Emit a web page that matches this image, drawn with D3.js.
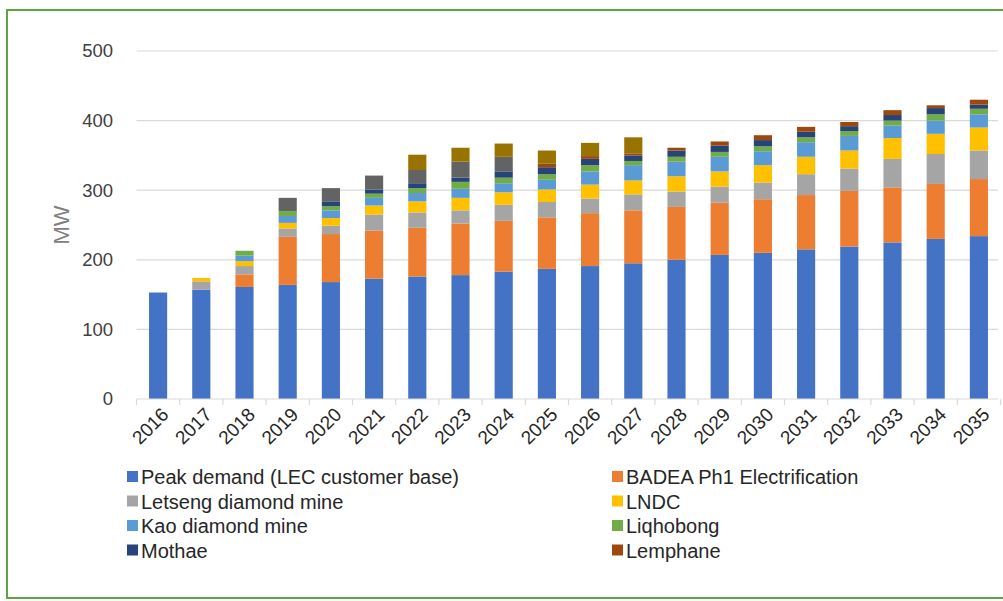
<!DOCTYPE html>
<html>
<head>
<meta charset="utf-8">
<script src="https://cdn.jsdelivr.net/npm/d3@7"></script>
<style>
  html, body { margin: 0; padding: 0; background: #fff; }
  svg { display: block; font-family: "Liberation Sans", Arial, sans-serif; }
</style>
</head>
<body>
<svg id="chart" width="1003" height="601"></svg>
<script>
// Forecast peak demand by load source, MW
const years = ["2016","2017","2018","2019","2020","2021","2022","2023","2024","2025",
               "2026","2027","2028","2029","2030","2031","2032","2033","2034","2035"];

const peakDemand = [153,157,161,164,168,173,176,178,183,187,191,195,200,207,210,215,219,225,230,234];
const badea      = [0,0,18,69,69,69,70,74,73,74,76,76,76,75,77,78,80,79,79,82];
const letseng    = [0,12,12,12,12,23,22,19,23,22,21,23,22,23,24,30,32,41,43,41];
const lndc       = [0,5,7,8,11,13,16,18,18,18,20,20,22,22,25,25,26,30,29,33];
const kao        = [0,0,8,10,11,11,12,13,13,14,19,22,21,21,20,21,21,18,19,19];
const liqhobong  = [0,0,7,7,6,6,7,10,8,8,9,6,7,7,7,7,7,7,9,8];
const mothae     = [0,0,0,0,7,6,7,6,9,10,9,8,9,9,9,8,7,8,9,6];
const lemphane   = [0,0,0,0,0,0,0,0,0,5,4,3,4,6,7,7,6,7,4,7];
const extraLoadA = [0,0,0,19,19,20,19,23,21,0,0,0,0,0,0,0,0,0,0,0];
const extraLoadB = [0,0,0,0,0,0,22,20,19,19,19,23,0,0,0,0,0,0,0,0];

const yTicks = [0,100,200,300,400,500];

const series = [
  { name: "Peak demand (LEC customer base)", values: peakDemand, color: "#4472C4", legend: true },
  { name: "BADEA Ph1 Electrification",       values: badea,      color: "#ED7D31", legend: true },
  { name: "Letseng diamond mine",            values: letseng,    color: "#A5A5A5", legend: true },
  { name: "LNDC",                            values: lndc,       color: "#FFC000", legend: true },
  { name: "Kao diamond mine",                values: kao,        color: "#5B9BD5", legend: true },
  { name: "Liqhobong",                       values: liqhobong,  color: "#70AD47", legend: true },
  { name: "Mothae",                          values: mothae,     color: "#264478", legend: true },
  { name: "Lemphane",                        values: lemphane,   color: "#9E480E", legend: true },
  { name: "extraLoadA",                      values: extraLoadA, color: "#636363", legend: false },
  { name: "extraLoadB",                      values: extraLoadB, color: "#997300", legend: false }
];

const svg = d3.select("#chart");

// outer frame
svg.append("rect").attr("x", 7).attr("y", 10).attr("width", 1010).attr("height", 588)
  .attr("fill", "none").attr("stroke", "#5ea441").attr("stroke-width", 2);

const plot = { left: 136.5, right: 998, top: 51, bottom: 399 };

const x = d3.scaleBand().domain(years)
  .range([plot.left, plot.left + 864])
  .paddingInner(0.58).paddingOuter(0.29);

const y = d3.scaleLinear().domain([0, 500]).range([plot.bottom, plot.top]);

// gridlines
svg.append("g").selectAll("line").data(yTicks.filter(d => d > 0)).join("line")
  .attr("x1", plot.left).attr("x2", plot.right)
  .attr("y1", d => y(d)).attr("y2", d => y(d))
  .attr("stroke", "#d9d9d9").attr("stroke-width", 1.2);

// y tick labels
svg.append("g").selectAll("text").data(yTicks).join("text")
  .attr("x", 113).attr("y", d => y(d))
  .attr("dy", "0.35em").attr("text-anchor", "end")
  .attr("font-size", 18.5).attr("fill", "#404040")
  .text(d => d);

// y axis title
svg.append("text")
  .attr("transform", `translate(69,${y(250)}) rotate(-90)`)
  .attr("text-anchor", "middle").attr("font-size", 22).attr("fill", "#808080")
  .text("MW");

// stacked bars
const rows = years.map((yr, i) => {
  const r = { year: yr };
  series.forEach(s => { r[s.name] = s.values[i]; });
  return r;
});
const stack = d3.stack().keys(series.map(s => s.name))(rows);

svg.append("g").selectAll("g").data(stack).join("g")
  .attr("fill", (d, i) => series[i].color)
  .selectAll("rect").data(d => d).join("rect")
  .attr("x", d => x(d.data.year))
  .attr("width", x.bandwidth())
  .attr("y", d => y(d[1]))
  .attr("height", d => y(d[0]) - y(d[1]));

// category axis line and boundary ticks
const step = x.step();
svg.append("line")
  .attr("x1", plot.left).attr("x2", plot.right)
  .attr("y1", plot.bottom).attr("y2", plot.bottom)
  .attr("stroke", "#d9d9d9").attr("stroke-width", 1.2);
const bounds = years.map(d => x(d) + x.bandwidth() / 2 - step / 2)
  .concat([x(years[years.length - 1]) + x.bandwidth() / 2 + step / 2]);
svg.append("g").selectAll("line").data(bounds).join("line")
  .attr("x1", d => d).attr("x2", d => d)
  .attr("y1", plot.bottom).attr("y2", plot.bottom + 6)
  .attr("stroke", "#d9d9d9").attr("stroke-width", 1.2);

// rotated year labels
svg.append("g").selectAll("text").data(years).join("text")
  .attr("transform", d => `translate(${x(d) + x.bandwidth() / 2 + 7},${plot.bottom + 12}) rotate(-45)`)
  .attr("text-anchor", "end").attr("dy", "0.35em")
  .attr("font-size", 19).attr("fill", "#262626")
  .text(d => d);

// legend, two columns
const legendItems = series.filter(s => s.legend);
const lg = svg.append("g").selectAll("g").data(legendItems).join("g")
  .attr("transform", (d, i) => `translate(${i % 2 === 0 ? 127 : 612},${477 + Math.floor(i / 2) * 24.5})`);
lg.append("rect").attr("x", 0).attr("y", -6).attr("width", 11).attr("height", 11)
  .attr("fill", d => d.color);
lg.append("text").attr("x", 14).attr("dy", "0.35em")
  .attr("font-size", 20).attr("fill", "#262626")
  .text(d => d.name);
</script>
</body>
</html>
